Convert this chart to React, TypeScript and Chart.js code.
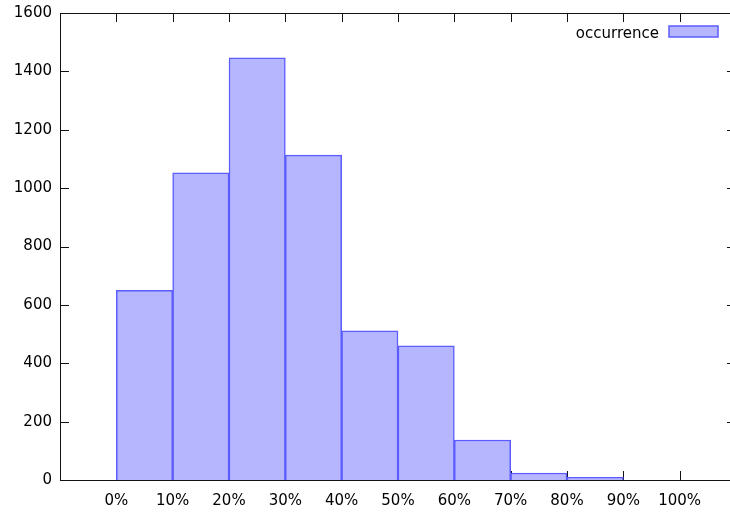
import React, { useEffect, useRef } from "react";
import { Chart, registerables } from "chart.js";

Chart.register(...registerables);

const binStarts: number[] = [0, 10, 20, 30, 40, 50, 60, 70, 80, 90];
const occurrence: number[] = [650, 1052, 1446, 1113, 511, 460, 137, 24, 9, 0];
const xTickValues: number[] = [0, 10, 20, 30, 40, 50, 60, 70, 80, 90, 100];
const yTickValues: number[] = [0, 200, 400, 600, 800, 1000, 1200, 1400, 1600];
const seriesLabel = "occurrence";

const FONT = "DejaVu Sans";
const FILL = "rgb(182,182,255)";
const EDGE = "rgb(92,92,255)";

const gnuplotFrame = {
  id: "gnuplotFrame",
  beforeDatasetsDraw(chart: any) {
    const { ctx, chartArea, scales } = chart;
    const { left, right, top, bottom } = chartArea;
    const x = scales.x;
    const y = scales.y;
    const len = 9;
    ctx.save();
    ctx.strokeStyle = "#111";
    ctx.lineWidth = 1;
    ctx.beginPath();
    xTickValues.forEach((v) => {
      const px = Math.round(x.getPixelForValue(v)) + 0.5;
      ctx.moveTo(px, bottom);
      ctx.lineTo(px, bottom - len);
      ctx.moveTo(px, top);
      ctx.lineTo(px, top + len);
    });
    yTickValues.forEach((v) => {
      const py = Math.round(y.getPixelForValue(v)) + 0.5;
      ctx.moveTo(left, py);
      ctx.lineTo(left + len, py);
      ctx.moveTo(right, py);
      ctx.lineTo(right - len, py);
    });
    ctx.stroke();
    ctx.restore();
  },
  afterDatasetsDraw(chart: any) {
    const { ctx, chartArea } = chart;
    const { left, right, top, bottom } = chartArea;
    ctx.save();
    ctx.strokeStyle = "#111";
    ctx.lineWidth = 1;
    ctx.strokeRect(Math.round(left) + 0.5, Math.round(top) + 0.5, Math.round(right - left), Math.round(bottom - top));
    // legend
    const boxRight = right - 18;
    const boxW = 49;
    const boxTop = top + 13;
    const boxH = 11;
    ctx.fillStyle = FILL;
    ctx.fillRect(boxRight - boxW, boxTop, boxW, boxH);
    ctx.strokeStyle = EDGE;
    ctx.lineWidth = 1.5;
    ctx.strokeRect(boxRight - boxW, boxTop, boxW, boxH);
    ctx.fillStyle = "#000";
    ctx.font = `15px "${FONT}"`;
    ctx.textAlign = "right";
    ctx.textBaseline = "middle";
    ctx.fillText(seriesLabel, boxRight - boxW - 10, boxTop + boxH / 2 + 2.5);
    ctx.restore();
  },
};

export default function App() {
  const ref = useRef<HTMLCanvasElement | null>(null);
  useEffect(() => {
    document.body.style.margin = "0";
    const canvas = ref.current;
    if (!canvas) return;
    const chart = new Chart(canvas, {
      type: "bar",
      data: {
        datasets: [
          {
            label: seriesLabel,
            data: binStarts.map((b, i) => ({ x: b + 5, y: occurrence[i] })),
            backgroundColor: FILL,
            borderColor: EDGE,
            borderWidth: 1.5,
            borderSkipped: "bottom",
            barPercentage: 1,
            categoryPercentage: 1,
          },
        ],
      },
      options: {
        animation: false,
        responsive: false,
        devicePixelRatio: 1,
        layout: { padding: { top: 13, right: 10, left: 0, bottom: 0 } },
        plugins: { legend: { display: false }, tooltip: { enabled: false } },
        scales: {
          x: {
            type: "linear",
            min: -10,
            max: 110,
            offset: false,
            grid: { display: false, tickLength: 0 },
            border: { display: false },
            afterFit: (s: any) => {
              s.height = 36;
              s.paddingLeft = 0;
              s.paddingRight = 0;
            },
            afterBuildTicks: (s: any) => {
              s.ticks = xTickValues.map((v) => ({ value: v }));
            },
            ticks: {
              autoSkip: false,
              maxRotation: 0,
              padding: 12,
              color: "#000",
              font: { family: FONT, size: 15 },
              callback: (v: any) => `${v}%`,
            },
          },
          y: {
            min: 0,
            max: 1600,
            grid: { display: false, tickLength: 0 },
            border: { display: false },
            afterFit: (s: any) => {
              s.width = 60;
              s.paddingTop = 0;
              s.paddingBottom = 0;
            },
            afterBuildTicks: (s: any) => {
              s.ticks = yTickValues.map((v) => ({ value: v }));
            },
            ticks: {
              autoSkip: false,
              padding: 8,
              color: "#000",
              font: { family: FONT, size: 15 },
              callback: (v: any) => `${v}`,
            },
          },
        },
      },
      plugins: [gnuplotFrame],
    });
    return () => chart.destroy();
  }, []);
  return (
    <div style={{ position: "fixed", left: 0, top: 0, width: 730, height: 516, overflow: "hidden", background: "#fff" }}>
      <canvas ref={ref} width={746} height={516} style={{ width: 746, height: 516, display: "block" }} />
    </div>
  );
}
